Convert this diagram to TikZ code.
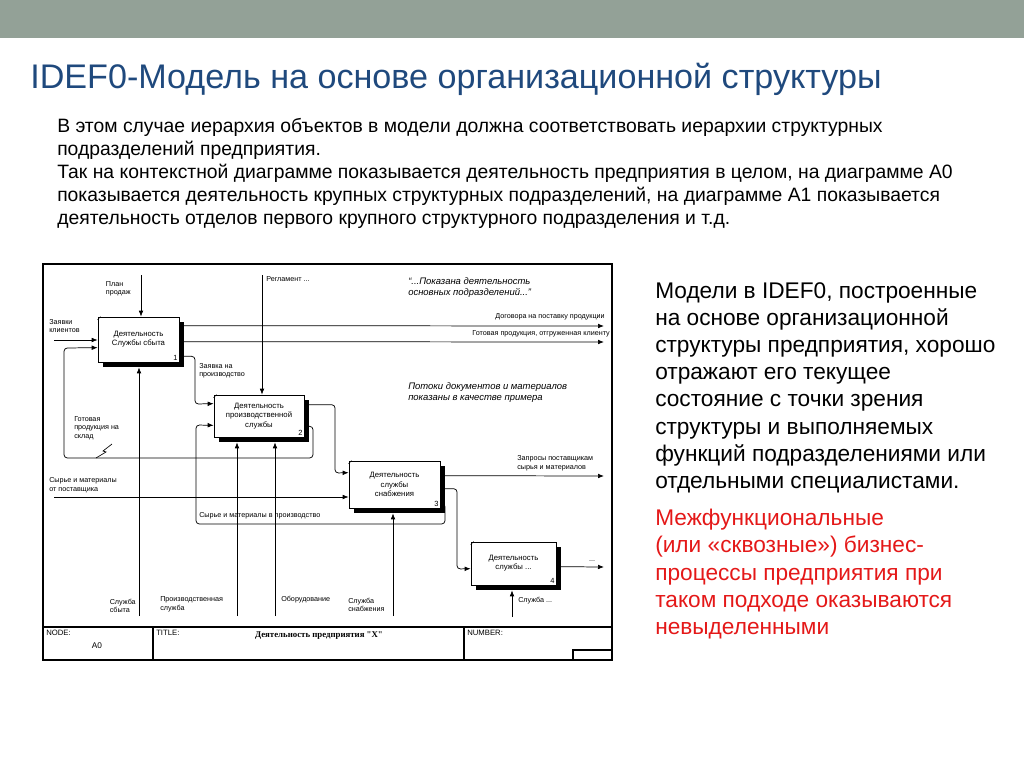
\documentclass[tikz,border=0pt]{standalone}
\usepackage{fontspec}
\setmainfont{Liberation Sans}
\newfontfamily\titleserif{Liberation Serif}
\usetikzlibrary{calc, arrows.meta, shadows}
\definecolor{band}{RGB}{147,161,151}
\definecolor{titleblue}{RGB}{31,73,125}
\definecolor{alertred}{RGB}{228,24,24}

\begin{document}
\begin{tikzpicture}[
    x=0.75pt, y=-0.75pt,
    func/.style={draw, fill=white, line width=0.5pt, align=center, inner sep=1pt,
      font=\fontsize{5.8}{6.9}\selectfont,
      general shadow={fill=black, shadow xshift=3.75pt, shadow yshift=-3.75pt}},
    num/.style={anchor=south east, inner sep=1.2pt, font=\fontsize{5.6}{6}\selectfont},
    lbl/.style={inner sep=0pt, align=left, font=\fontsize{5.4}{6.4}\selectfont},
    note/.style={inner sep=0pt, align=left, font=\fontsize{7.1}{8.6}\selectfont\itshape},
    flow/.style={line width=0.55pt, rounded corners=2.5pt, -{Latex[length=4.5pt, width=3.5pt]}},
    mech/.style={flow, shorten >=3.75pt},
    slide/.style={inner sep=0pt, align=left, anchor=north west},
  ]
    \useasboundingbox (0,0) rectangle (1024,767);
    \fill[band] (0,0) rectangle (1024,38);

    % slide texts
    \node[anchor=base west, inner sep=0pt, text=titleblue, font=\fontsize{25.6}{30}\selectfont] (title) at (30,89)
      {IDEF0-Модель на основе организационной структуры};
    \node[slide, font=\fontsize{14.5}{17.25}\selectfont] (intro) at (57,118)
      {В этом случае иерархия объектов в модели должна соответствовать иерархии структурных\\
       подразделений предприятия.\\
       Так на контекстной диаграмме показывается деятельность предприятия в целом, на диаграмме А0\\
       показывается деятельность крупных структурных подразделений, на диаграмме А1 показывается\\
       деятельность отделов первого крупного структурного подразделения и т.д.};
    \node[slide, font=\fontsize{17}{20.4}\selectfont] (remark) at (655,282)
      {Модели в IDEF0, построенные\\ на основе организационной\\ структуры предприятия, хорошо\\
       отражают его текущее\\ состояние с точки зрения\\ структуры и выполняемых\\
       функций подразделениями или\\ отдельными специалистами.};
    \node[slide, text=alertred, font=\fontsize{17}{20.4}\selectfont] (alert) at (655,509)
      {Межфункциональные\\ (или «сквозные») бизнес-\\ процессы предприятия при\\
       таком подходе оказываются\\ невыделенными};

    % frame and title block
    \draw[line width=1.5pt] (43,264) rectangle (612,660);
    \draw[line width=0.9pt] (43,627) -- (612,627) (153,627) -- (153,660) (464,627) -- (464,660);
    \draw[line width=0.9pt] (573,650) rectangle (612,660);
    \node[lbl, anchor=north west, font=\fontsize{5.8}{7}\selectfont] (node) at (46,630) {NODE:};
    \node[lbl, font=\fontsize{6.2}{7}\selectfont] (nodeno) at (97,646) {A0};
    \node[lbl, anchor=north west, font=\fontsize{5.8}{7}\selectfont] (tit) at (156,630) {TITLE:};
    \node[lbl, font=\titleserif\bfseries\fontsize{6.6}{7}\selectfont] (titname) at (319,636)
      {Деятельность предприятия "Х"};
    \node[lbl, anchor=north west, font=\fontsize{5.8}{7}\selectfont] (numb) at (467,630) {NUMBER:};

    % activities
    \node[func, minimum width=60.75pt, minimum height=33.75pt] (b1) at (138.5,339.5)
      {Деятельность\\Службы сбыта};
    \node[func, minimum width=67.5pt, minimum height=31.5pt] (b2) at (259,416)
      {Деятельность\\производственной\\службы};
    \node[func, minimum width=68.25pt, minimum height=35.25pt] (b3) at (394.5,484.5)
      {Деятельность\\службы\\снабжения};
    \node[func, minimum width=63.75pt, minimum height=32.25pt] (b4) at (513.5,563.5)
      {Деятельность\\службы ...};
    \node[num] (n1) at (b1.south east) {1};
    \node[num] (n2) at (b2.south east) {2};
    \node[num] (n3) at (b3.south east) {3};
    \node[num] (n4) at (b4.south east) {4};
    \foreach \b in {b1,b2,b3,b4}
      \draw[line width=0.4pt] ($(\b.north west)+(0,3)$) -- ++(3,-3);

    % free ends
    \coordinate (plan) at (141,275);
    \coordinate (regl) at (262,275);
    \coordinate (zk) at (54,340);
    \coordinate (sup) at (54,497);
    \coordinate (dog) at (604,326);
    \coordinate (got) at (604,342);
    \coordinate (zap) at (604,476);
    \coordinate (more) at (604,567);
    \coordinate (m1) at (139,616);
    \coordinate (m2a) at (237,616);
    \coordinate (m2b) at (275,616);
    \coordinate (m3) at (393,616);
    \coordinate (m4) at (512,617);

    % controls and inputs
    \draw[flow] (plan) -- (plan |- b1.north);
    \draw[flow] (regl) -- (regl |- b2.north);
    \draw[flow] (zk) -- (zk -| b1.west);
    \draw[flow] (sup) -- (sup -| b3.west);

    % outputs
    \draw[flow] ($(b1.north east)+(0,9)$) -- (dog);
    \draw[flow] ($(b1.north east)+(0,25)$) -- (got);
    \draw[flow] ($(b3.north east)+(0,15)$) -- (zap);
    \draw[flow] ($(b4.north east)+(0,25)$) -- (more);
    \draw[flow] ($(b1.south east)+(0,-6)$) -| (195,404) -- ($(b2.north west)+(0,9)$);
    \draw[flow] ($(b2.north east)+(0,10)$) -| (335,473) -- ($(b3.north west)+(0,12)$);
    \draw[flow] ($(b3.north east)+(0,28)$) -| (457,569) -- ($(b4.north west)+(0,27)$);
    \draw[flow] ($(b2.south east)+(0,-11)$) -| (313,458) -| (64,348) -- ($(b1.north west)+(0,31)$);
    \draw[flow] ($(b3.south east)+(0,-5)$) -| (445,524) -| (196,425) -- ($(b2.south west)+(0,-12)$);
    \draw[line width=0.5pt] (112,444) -- (103,451) -- (106,452) -- (96,458);

    % mechanisms
    \draw[mech] (m1) -- (m1 |- b1.south);
    \draw[mech] (m2a) -- (m2a |- b2.south);
    \draw[mech] (m2b) -- (m2b |- b2.south);
    \draw[mech] (m3) -- (m3 |- b3.south);
    \draw[mech] (m4) -- (m4 |- b4.south);

    % arrow labels
    \node[lbl, anchor=north east] (lplan) at (131,281) {План\\продаж};
    \node[lbl, anchor=west] (lregl) at (266,279) {Регламент ...};
    \node[lbl, anchor=north west] (lzk) at (49,319) {Заявки\\клиентов};
    \node[lbl, anchor=south east] (ldog) at (605,320) {Договора на поставку продукции};
    \node[lbl, anchor=south east] (lgot) at (610,337) {Готовая продукция, отгруженная клиенту};
    \node[lbl, anchor=north west] (lzp) at (199,363) {Заявка на\\производство};
    \node[lbl, anchor=north west] (lsklad) at (74,416) {Готовая\\продукция на\\склад};
    \node[lbl, anchor=south west] (lsup) at (49,493) {Сырье и материалы\\от поставщика};
    \node[lbl, anchor=west] (lsvp) at (199,516) {Сырье и материалы в производство};
    \node[lbl, anchor=south west] (lzap) at (517,471) {Запросы поставщикам\\сырья и материалов};
    \node[lbl, anchor=south] (lmore) at (592,562) {...};
    \node[lbl, anchor=south east] (lm1) at (136,613) {Служба\\сбыта};
    \node[lbl, anchor=south west] (lm2a) at (160,612) {Производственная\\служба};
    \node[lbl, anchor=west] (lm2b) at (281,600) {Оборудование};
    \node[lbl, anchor=south west] (lm3) at (348,612) {Служба\\снабжения};
    \node[lbl, anchor=west] (lm4) at (518,601) {Служба ...};

    % notes
    \node[note, anchor=north west] (note1) at (408,277)
      {“...Показана деятельность\\ основных подразделений...”};
    \node[note, anchor=north west] (note2) at (408,382)
      {Потоки документов и материалов\\ показаны в качестве примера};
  \end{tikzpicture}
\end{document}
